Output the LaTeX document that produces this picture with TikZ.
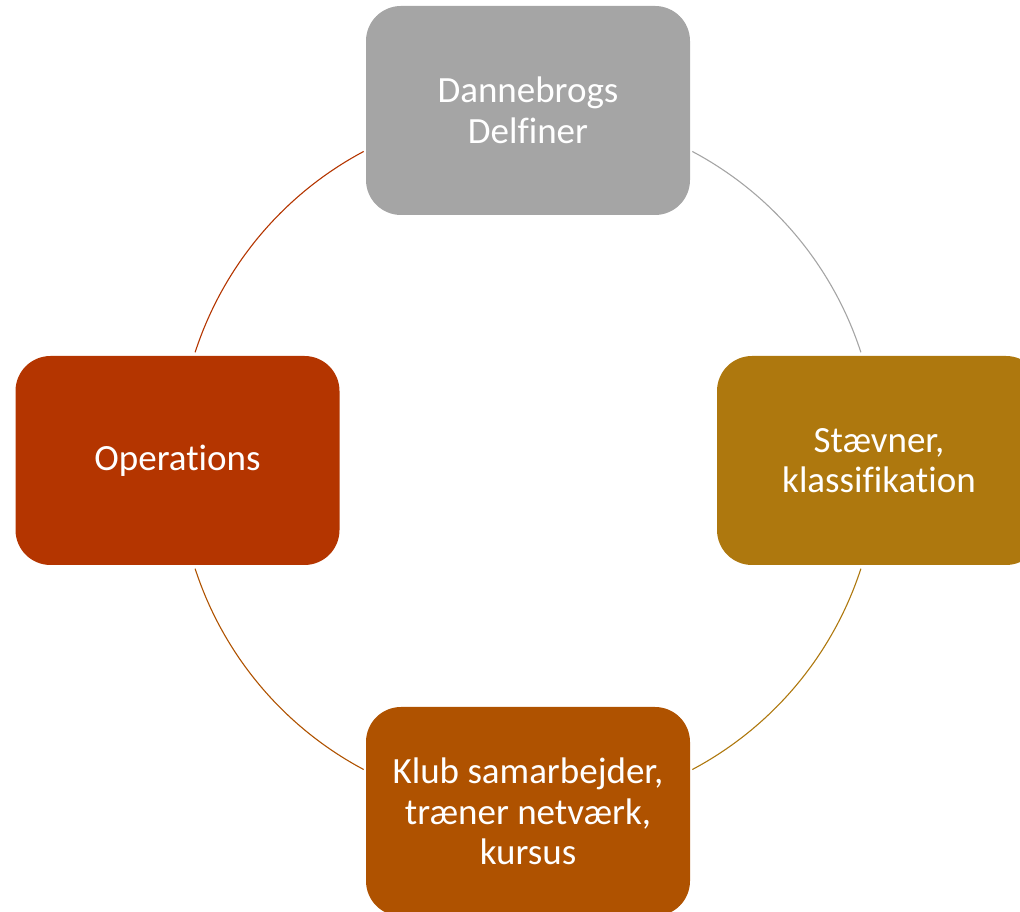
\documentclass[tikz,border=0pt]{standalone}
\usepackage{fontspec}
\usetikzlibrary{calc}
\setmainfont[Ligatures=NoCommon]{Carlito}
\definecolor{cgray}{HTML}{A5A5A5}
\definecolor{cgold}{HTML}{AE780E}
\definecolor{corange}{HTML}{AF5200}
\definecolor{cred}{HTML}{B43500}
\tikzset{
  box/.style={rounded corners=35pt, minimum width=324pt, minimum height=209pt,
    inner sep=0pt, align=center, text=white,
    font=\fontsize{37}{40.5}\selectfont},
  link/.style={line width=1.1pt}
}
\begin{document}
\begin{tikzpicture}[x=1pt,y=1pt]
\useasboundingbox (0,0) rectangle (1020,912);
\coordinate (c) at (528,451.5);
\node[box, fill=cgray] (top) at (528,801.5) {Dannebrogs\\Delfiner};
\node[box, fill=cgold] (right) at (879,451.5) {Stævner,\\klassifikation};
\node[box, fill=corange] (bottom) at (528,100.5) {Klub samarbejder,\\træner netværk,\\kursus};
\node[box, fill=cred] (left) at (177.5,451.5) {Operations};
\coordinate (a1) at ($(c)+(62:350)$);
\coordinate (a2) at ($(c)+(-18:350)$);
\coordinate (a3) at ($(c)+(-118:350)$);
\coordinate (a4) at ($(c)+(162:350)$);
\draw[link, cgray] (a1) arc (62:18:350);
\draw[link, cgold] (a2) arc (-18:-62:350);
\draw[link, corange] (a3) arc (-118:-162:350);
\draw[link, cred] (a4) arc (162:118:350);
\end{tikzpicture}
\end{document}
